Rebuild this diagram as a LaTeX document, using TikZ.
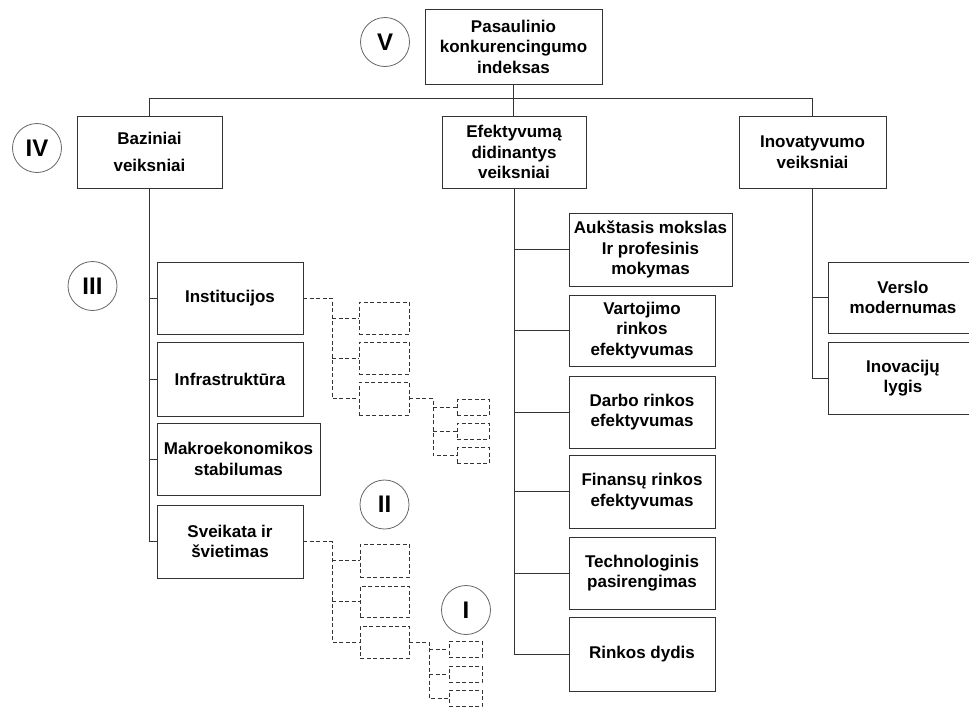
\documentclass[tikz,border=0pt]{standalone}
\usepackage{fontspec}
\setmainfont{Liberation Sans}
\begin{document}
\begin{tikzpicture}[x=1pt,y=-1pt,
  box/.style={draw=black!80,line width=0.9pt,inner sep=0pt,align=center,
    font=\bfseries\fontsize{17}{20.5}\selectfont},
  dbox/.style={draw=black!80,line width=0.8pt,dash pattern=on 4pt off 2.5pt,inner sep=0pt},
  conn/.style={draw=black!80,line width=0.9pt},
  dconn/.style={draw=black!80,line width=0.8pt,dash pattern=on 4pt off 2.5pt},
  lvl/.style={draw=black!60,line width=0.8pt,circle,minimum size=49pt,inner sep=0pt,
    font=\bfseries\fontsize{24}{24}\selectfont}]
\useasboundingbox (0,0) rectangle (969,707);
\clip (0,0) rectangle (969,707);
\fill[white] (0,0) rectangle (969,707);

% level circles
\node[lvl] (cV) at (385,42) {V};
\node[lvl] (cIV) at (37,148) {IV};
\node[lvl] (cIII) at (92.5,286) {III};
\node[lvl] (cII) at (384.5,504.5) {II};
\node[lvl] (cI) at (466,610) {I};

% top
\node[box,minimum width=177pt,minimum height=75pt] (top) at (513.5,46.5) {Pasaulinio\\konkurencingumo\\indeksas};

% level IV
\node[box,minimum width=145pt,minimum height=72pt] (baz) at (149.5,152) {Baziniai\\[7pt]veiksniai};
\node[box,minimum width=144pt,minimum height=72pt] (eff) at (514,152) {Efektyvumą\\didinantys\\veiksniai};
\node[box,minimum width=147pt,minimum height=72pt] (inov) at (812.5,152) {Inovatyvumo\\veiksniai};

% basic factors
\node[box,minimum width=146pt,minimum height=72pt] (inst) at (230,298) {Institucijos};
\node[box,minimum width=146pt,minimum height=74pt] (infr) at (230,379) {Infrastruktūra};
\node[box,minimum width=163pt,minimum height=72pt] (makro) at (238.5,459) {Makroekonomikos\\stabilumas};
\node[box,minimum width=146pt,minimum height=73pt] (svk) at (230,541.5) {Sveikata ir\\švietimas};

% efficiency factors
\node[box,minimum width=163pt,minimum height=73pt] (auk) at (650.5,249.5) {Aukštasis mokslas\\Ir profesinis\\mokymas};
\node[box,minimum width=146pt,minimum height=71pt] (vart) at (642,330.5) {Vartojimo\\rinkos\\efektyvumas};
\node[box,minimum width=146pt,minimum height=72pt] (darb) at (642,412) {Darbo rinkos\\efektyvumas};
\node[box,minimum width=146pt,minimum height=73pt] (fin) at (642,491.5) {Finansų rinkos\\efektyvumas};
\node[box,minimum width=146pt,minimum height=72pt] (tech) at (642,573) {Technologinis\\pasirengimas};
\node[box,minimum width=146pt,minimum height=74pt] (rink) at (642,654) {Rinkos dydis};

% innovation factors
\node[box,minimum width=150pt,minimum height=71pt] (vers) at (903,297.5) {Verslo\\modernumas};
\node[box,minimum width=150pt,minimum height=72pt] (inoc) at (903,378) {Inovacijų\\lygis};

% dashed sub-boxes (Institucijos)
\node[dbox,minimum width=50pt,minimum height=32pt] (d1) at (384,318) {};
\node[dbox,minimum width=50pt,minimum height=32pt] (d2) at (384,358) {};
\node[dbox,minimum width=50pt,minimum height=33pt] (d3) at (384,398.5) {};
\node[dbox,minimum width=32pt,minimum height=16pt] (e1) at (473,407.5) {};
\node[dbox,minimum width=32pt,minimum height=16pt] (e2) at (473,431) {};
\node[dbox,minimum width=32pt,minimum height=16pt] (e3) at (473,455.5) {};

% dashed sub-boxes (Sveikata)
\node[dbox,minimum width=49pt,minimum height=33pt] (f1) at (384.5,560.5) {};
\node[dbox,minimum width=49pt,minimum height=31pt] (f2) at (384.5,601.5) {};
\node[dbox,minimum width=49pt,minimum height=32pt] (f3) at (384.5,642) {};
\node[dbox,minimum width=33pt,minimum height=16pt] (g1) at (465.5,649.5) {};
\node[dbox,minimum width=33pt,minimum height=16pt] (g2) at (465.5,674) {};
\node[dbox,minimum width=33pt,minimum height=16pt] (g3) at (465.5,698) {};

% top connectors
\draw[conn] (top.south) -- (top.south |- eff.north);
\draw[conn] (baz.north) -- ++(0,-17) -| (inov.north);

% basic factors tree
\draw[conn] (baz.south) |- (svk.west);
\foreach \n in {inst,infr,makro}
  \draw[conn] (baz.south |- \n.west) -- (\n.west);

% efficiency tree
\draw[conn] (eff.south) |- (rink.west);
\foreach \n in {auk,vart,darb,fin,tech}
  \draw[conn] (eff.south |- \n.west) -- (\n.west);

% innovation tree
\draw[conn] (inov.south) |- (inoc.west);
\draw[conn] (inov.south |- vers.west) -- (vers.west);

% dashed trees
\draw[dconn] (inst.east) -- ++(29,0) coordinate (j1) |- (d3.west);
\draw[dconn] (j1 |- d1.west) -- (d1.west);
\draw[dconn] (j1 |- d2.west) -- (d2.west);
\draw[dconn] (d3.east) -- ++(24,0) coordinate (j2) |- (e3.west);
\draw[dconn] (j2 |- e1.west) -- (e1.west);
\draw[dconn] (j2 |- e2.west) -- (e2.west);

\draw[dconn] (svk.east) -- ++(29,0) coordinate (j3) |- (f3.west);
\draw[dconn] (j3 |- f1.west) -- (f1.west);
\draw[dconn] (j3 |- f2.west) -- (f2.west);
\draw[dconn] (f3.east) -- ++(20,0) coordinate (j4) |- (g3.west);
\draw[dconn] (j4 |- g1.west) -- (g1.west);
\draw[dconn] (j4 |- g2.west) -- (g2.west);
\end{tikzpicture}
\end{document}
